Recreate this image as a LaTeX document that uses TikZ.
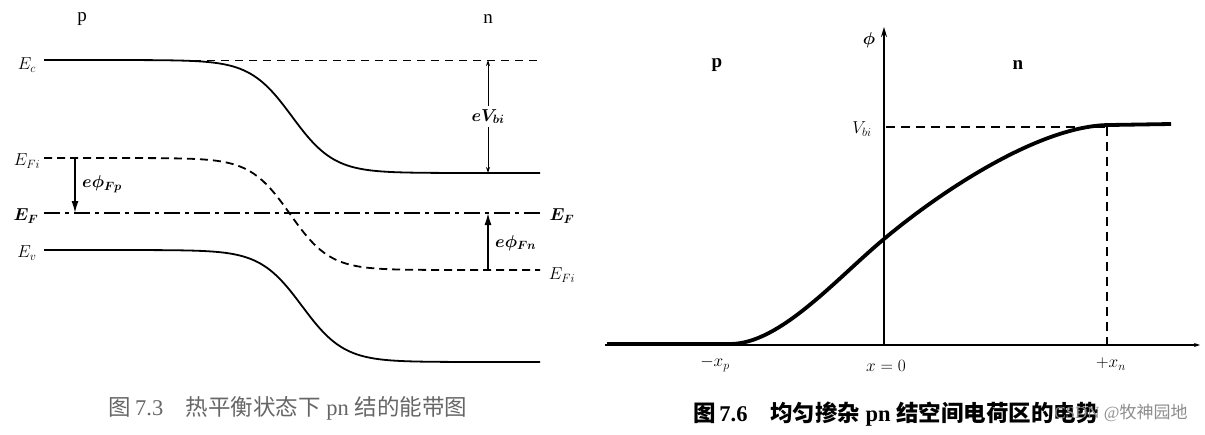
\documentclass[tikz,border=0pt]{standalone}
\usepackage{amsmath}
\usepackage{fontspec}
\setmainfont{Liberation Serif}
\newfontfamily\cjk{Noto Sans CJK SC}
\usetikzlibrary{arrows.meta}
\begin{document}
\begin{tikzpicture}[x=1pt,y=-1pt,
  band/.style={line width=1.8pt},
  lbl/.style={inner sep=1pt,font=\fontsize{18}{20}\selectfont},
  reg/.style={inner sep=1pt,font=\fontsize{19}{21}\selectfont},
  thinarrow/.style={line width=1pt,{Stealth[length=6pt,width=4pt]}-{Stealth[length=6pt,width=4pt]}},
  fatarrow/.style={line width=1.6pt,-{Latex[length=12pt,width=7pt]}},
  dashln/.style={line width=1.3pt,dash pattern=on 9pt off 6pt},
  axisln/.style={line width=1.8pt},
  captxt/.style={inner sep=0pt}]
\useasboundingbox (0,0) rectangle (1205,434);

% ---------------- left panel ----------------
\node[reg] (pL) at (82,19) {p};
\node[reg] (nL) at (488,19) {n};

\node[lbl] (Ec) at (27,65) {$E_c$};
\node[lbl] (EFiL) at (27,161) {$E_{Fi}$};
\node[lbl] (EFL) at (26,216) {$\boldsymbol{E_F}$};
\node[lbl] (Ev) at (27,253) {$E_v$};
\node[lbl] (EFR) at (562,216) {$\boldsymbol{E_F}$};
\node[lbl] (EFiR) at (562,275) {$E_{Fi}$};

% Ec band and its dashed level
\draw[band] plot[domain=44:540,samples=150] (\x,{60+113*(1+tanh((\x-292)/42))/2});
\coordinate (ecd1) at (165,60);
\coordinate (ecd2) at (540,60);
\draw[line width=1pt,dash pattern=on 8pt off 6pt] (ecd1) -- (ecd2);

% intrinsic Fermi level (dashed)
\draw[line width=1.8pt,dash pattern=on 8pt off 5pt] plot[domain=44:540,samples=150] (\x,{158+112*(1+tanh((\x-290)/40))/2});

% Fermi level (dash-dot)
\coordinate (ef1) at (44,213);
\coordinate (ef2) at (540,213);
\draw[line width=1.4pt,dash pattern=on 16pt off 5pt on 4pt off 5pt] (ef1) -- (ef2);

% Ev band
\draw[band] plot[domain=44:540,samples=150] (\x,{250+112*(1+tanh((\x-302)/42))/2});

% eVbi
\coordinate (vbT) at (488,60);
\coordinate (vbB) at (488,173);
\draw[thinarrow] (vbT) -- (vbB) node[midway,fill=white,lbl,inner sep=3pt] (vbl) {$\boldsymbol{eV_{bi}}$};

% e phi Fp
\coordinate (fpT) at (75,158);
\coordinate (fpB) at (75,213);
\draw[fatarrow] (fpT) -- (fpB);
\node[lbl,anchor=west] (fpl) at (81,184) {$\boldsymbol{e\phi_{Fp}}$};

% e phi Fn
\coordinate (fnB) at (488,270);
\coordinate (fnT) at (488,213);
\draw[fatarrow] (fnB) -- (fnT);
\node[lbl,anchor=west] (fnl) at (494,243) {$\boldsymbol{e\phi_{Fn}}$};

\node[captxt,text=black!60] (capL) at (288,408) {\fontsize{22.5}{24}\selectfont{\cjk 图}\,7.3\quad{\cjk 热平衡状态下} pn {\cjk 结的能带图}};

% ---------------- right panel ----------------
\coordinate (o) at (884,345);
\coordinate (xL) at (605,345);
\coordinate (xR) at (1200,345);
\coordinate (yT) at (884,27);
\draw[line width=1.2pt,-{Stealth[length=6pt,width=4pt]}] (xL) -- (xR);
\draw[axisln,-{Stealth[length=10pt,width=6pt]}] (o) -- (yT);

\node[lbl] (phi) at (869,40) {$\boldsymbol{\phi}$};
\node[reg] (pR) at (717,65) {\bfseries p};
\node[reg] (nR) at (1018,65) {\bfseries n};
\node[lbl] (vbi) at (862,129) {$V_{bi}$};
\node[lbl] (mxp) at (715,364) {$-x_p$};
\node[lbl] (x0) at (886,366) {$x = 0$};
\node[lbl] (pxn) at (1111,364) {$+x_n$};

\coordinate (vb1) at (886,127);
\coordinate (vb2) at (1110,127);
\coordinate (xn1) at (1107,127);
\coordinate (xn2) at (1107,345);
\draw[dashln] (vb1) -- (vb2);
\draw[dashln] (xn1) -- (xn2);

% potential curve
\coordinate (c0) at (607,344);
\coordinate (c1) at (730,344);
\coordinate (c2) at (884,239);
\coordinate (c3) at (1110,125);
\coordinate (c4) at (1171,124);
\draw[line width=3.8pt,line join=round] (c0) -- (c1)
  .. controls (780,344) and (836,279) .. (c2)
  .. controls (940,192) and (1040,125) .. (c3) -- (c4);

\node[captxt,text=black] (capR) at (896,414) {\fontsize{22.5}{24}\selectfont\bfseries{\cjk 图}\,7.6\quad{\cjk 均匀掺杂} pn {\cjk 结空间电荷区的电势}};
\node[captxt,text=black!45] (wm) at (1121,413) {\fontsize{17}{19}\selectfont CSDN @{\cjk 牧神园地}};
\end{tikzpicture}
\end{document}
